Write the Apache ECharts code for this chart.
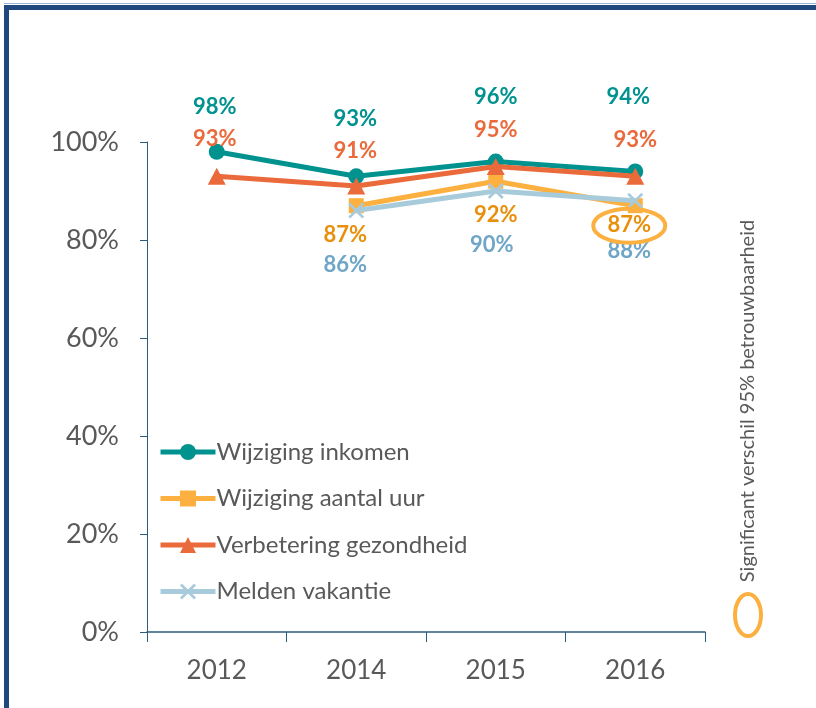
<!DOCTYPE html>
<html><head><meta charset="utf-8">
<script src="https://cdn.jsdelivr.net/npm/echarts@6/dist/echarts.min.js"></script>
<style>html,body{margin:0;padding:0;background:#fff}#c{width:816px;height:708px}</style>
</head><body><div id="c"></div>
<script>
var years = ['2012','2014','2015','2016'];
var inkomen = [98, 93, 96, 94];
var aantalUur = [null, 87, 92, 87];
var gezondheid = [93, 91, 95, 93];
var vakantie = [null, 86, 90, 88];
var seriesNames = ['Wijziging inkomen','Wijziging aantal uur','Verbetering gezondheid','Melden vakantie'];
var yTicks = [0, 20, 40, 60, 80, 100];
var noteText = 'Significant verschil 95% betrouwbaarheid';

// label offsets (style only)
var offInkomen = [[-2,-45],[-1,-57],[0,-65],[-7,-74]];
var offUur = [[0,0],[-11,29],[0,34],[-6,19]];
var offGez = [[-2,-37],[-1,-35],[0,-37],[0,-36]];
var offVak = [[0,0],[-11,54],[-4,54],[-6,50]];

var FONT = 'Lato';
var X_PATH = 'path://M0,1.2L1.2,0L5,3.8L8.8,0L10,1.2L6.2,5L10,8.8L8.8,10L5,6.2L1.2,10L0,8.8L3.8,5Z';

function mkData(vals, offs, lblColor){
  return vals.map(function(v,i){
    if (v === null) return null;
    return {value: v, label: {show:true, position:'inside', offset: offs[i], color: lblColor,
      fontFamily: FONT, fontWeight:'bold', fontSize: 22, formatter: '{c}%'}};
  });
}

var chart = echarts.init(document.getElementById('c'), null, {renderer:'canvas'});
var option = {
  animation: false,
  grid: {left:147, right:111, top:142, bottom:76},
  legend: {
    orient:'vertical', left:153, top:435, itemWidth:55, itemHeight:20, itemGap:22.5,
    lineStyle:{width:5},
    textStyle:{fontFamily:FONT, fontSize:24, color:'#595959', padding:[0,0,0,-4]},
    data: seriesNames
  },
  xAxis: {
    type:'category', data: years, boundaryGap:true,
    axisLine:{lineStyle:{color:'#2B5C7C', width:1.5}},
    axisTick:{show:true, length:10, lineStyle:{color:'#2B5C7C'}},
    axisLabel:{fontFamily:FONT, fontSize:26, color:'#595959', margin:26}
  },
  yAxis: {
    type:'value', min: yTicks[0], max: yTicks[yTicks.length-1], interval: yTicks[1]-yTicks[0],
    axisLine:{show:true, lineStyle:{color:'#2B5C7C', width:1}},
    axisTick:{show:true, length:7, lineStyle:{color:'#2B5C7C'}},
    splitLine:{show:false},
    axisLabel:{fontFamily:FONT, fontSize:27, color:'#595959', margin:28, formatter:'{value}%'}
  },
  series: [
    {name: seriesNames[0], type:'line', data: mkData(inkomen, offInkomen, '#00928F'),
     symbol:'circle', symbolSize:16, lineStyle:{width:5, color:'#00928F'}, itemStyle:{color:'#00928F'}, z:2},
    {name: seriesNames[1], type:'line', data: mkData(aantalUur, offUur, '#E8900C'),
     symbol:'rect', symbolSize:15, lineStyle:{width:5, color:'#FBB040'}, itemStyle:{color:'#FBB040'}, z:3},
    {name: seriesNames[2], type:'line', data: mkData(gezondheid, offGez, '#EA6A3B'),
     symbol:'triangle', symbolSize:[18,17], lineStyle:{width:5, color:'#EA6A3B'}, itemStyle:{color:'#EA6A3B'}, z:4},
    {name: seriesNames[3], type:'line', data: mkData(vakantie, offVak, '#6FA5C6'),
     symbol: X_PATH, symbolSize:16, lineStyle:{width:5, color:'#A8CBDC'}, itemStyle:{color:'#A8CBDC'}, z:5}
  ]
};
chart.setOption(option);

var p = chart.convertToPixel({seriesIndex:1}, [3, aantalUur[3]]);
var cx = p[0] + offUur[3][0], cy = p[1] + offUur[3][1];
chart.setOption({
  graphic: [
    {type:'rect', silent:true, shape:{x:6.5, y:7.5, width:1000, height:1000},
     style:{fill:'none', stroke:'#1F497D', lineWidth:5}, z:100},
    {type:'line', silent:true, shape:{x1:4, y1:3.5, x2:816, y2:3.5}, style:{stroke:'#9DB5D1', lineWidth:1}, z:100},
    {type:'ellipse', silent:true, shape:{cx:cx, cy:cy + 1, rx:36, ry:17},
     style:{fill:'none', stroke:'#FBB040', lineWidth:4}, z:100},
    {type:'text', silent:true, x:748, y:401, rotation:Math.PI/2,
     style:{text: noteText, font:'20px Lato', fill:'#595959', align:'center', verticalAlign:'middle'}, z:100},
    {type:'ellipse', silent:true, shape:{cx:748, cy:615, rx:13, ry:21},
     style:{fill:'none', stroke:'#FBB040', lineWidth:4}, z:100}
  ]
});
</script></body></html>
